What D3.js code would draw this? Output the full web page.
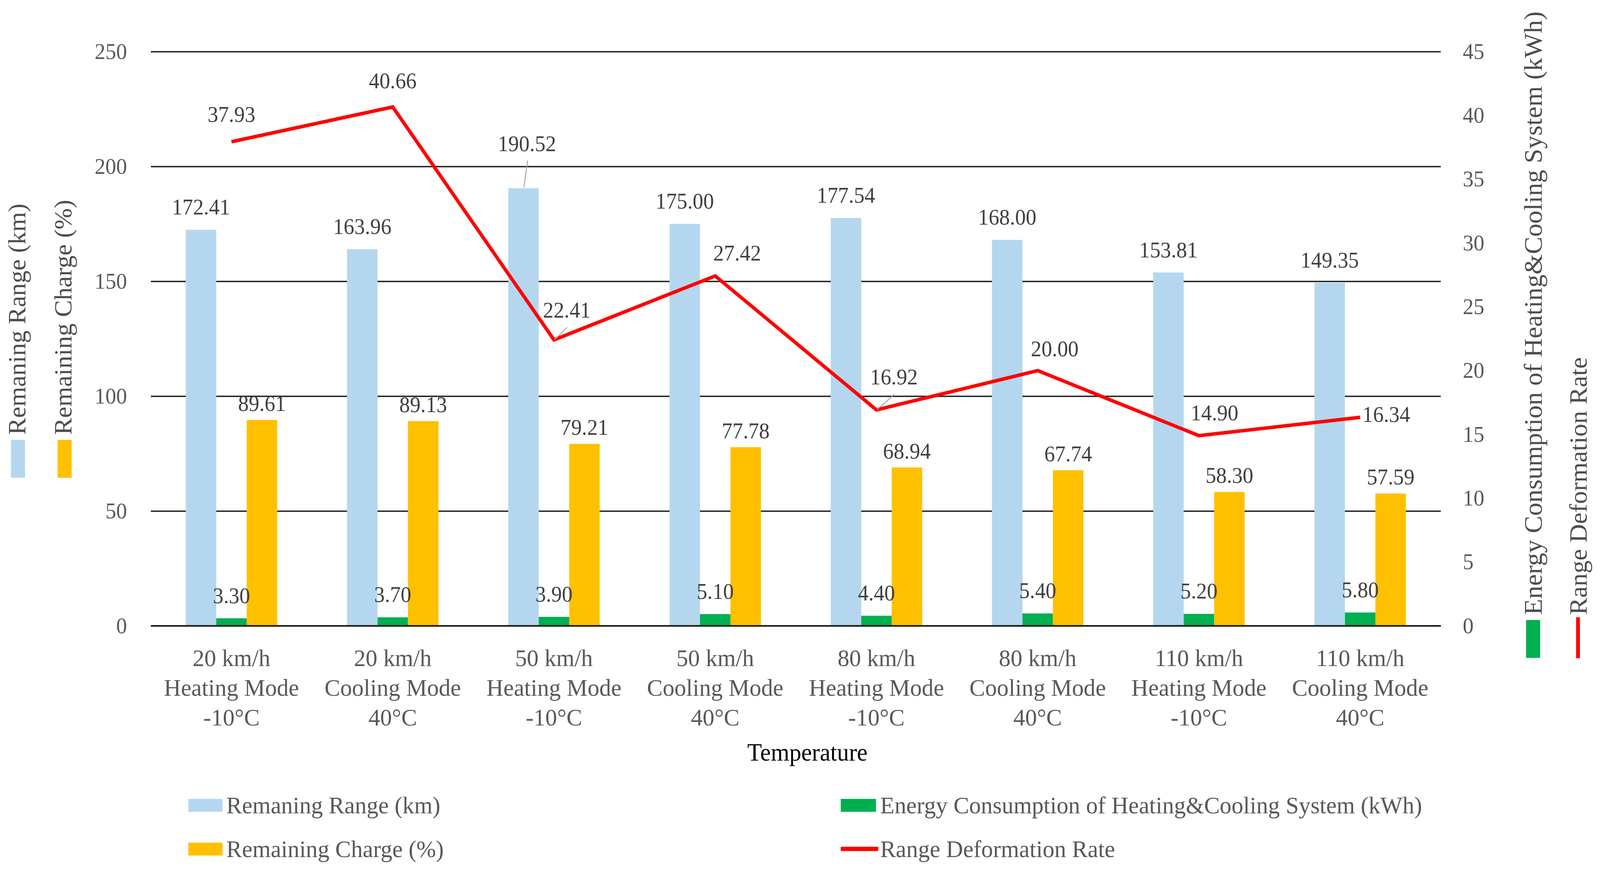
<!DOCTYPE html>
<html>
<head>
<meta charset="utf-8">
<script src="https://cdn.jsdelivr.net/npm/d3@7"></script>
<style>
  html, body { margin: 0; padding: 0; background: #fff; overflow: hidden; }
  #chart svg { display: block; width: 100vw; height: 100vh; }
  text { font-family: "Liberation Serif", "Times New Roman", serif; }
</style>
</head>
<body>
<div id="chart"></div>
<script>
// chart values
var categories = [
  ["20 km/h", "Heating Mode", "-10°C"],
  ["20 km/h", "Cooling Mode", "40°C"],
  ["50 km/h", "Heating Mode", "-10°C"],
  ["50 km/h", "Cooling Mode", "40°C"],
  ["80 km/h", "Heating Mode", "-10°C"],
  ["80 km/h", "Cooling Mode", "40°C"],
  ["110 km/h", "Heating Mode", "-10°C"],
  ["110 km/h", "Cooling Mode", "40°C"]
];
var remainingRange = [172.41, 163.96, 190.52, 175.00, 177.54, 168.00, 153.81, 149.35];
var energyUse = [3.30, 3.70, 3.90, 5.10, 4.40, 5.40, 5.20, 5.80];
var remainingCharge = [89.61, 89.13, 79.21, 77.78, 68.94, 67.74, 58.30, 57.59];
var deformationRate = [37.93, 40.66, 22.41, 27.42, 16.92, 20.00, 14.90, 16.34];
var leftTicks = [0, 50, 100, 150, 200, 250];
var rightTicks = [0, 5, 10, 15, 20, 25, 30, 35, 40, 45];

var seriesNames = {
  range: "Remaning Range (km)",
  energy: "Energy Consumption of Heating&Cooling System (kWh)",
  charge: "Remaining Charge (%)",
  rate: "Range Deformation Rate"
};
var colors = { range: "#B4D7EF", energy: "#00B050", charge: "#FFC000", rate: "#FF0000" };

// hand-moved data labels (offsets from the mark, like the dragged labels in the original)
var lineNudge = [
  { dx: 0, dy: -70 }, { dx: 0, dy: -67 }, { dx: 34, dy: -76, leader: true },
  { dx: 58, dy: -58 }, { dx: 46, dy: -84, leader: true }, { dx: 45, dy: -56 },
  { dx: 41, dy: -58 }, { dx: 6, dy: -7, anchor: "start" }
];
var rangeNudge = { 2: { dx: 9, dy: -114, leader: true } };

var W = 4221, H = 2227;
var m = { left: 398, right: 3801, top: 132, bottom: 1602 };

var svg = d3.select("#chart").append("svg")
  .attr("viewBox", "0 0 " + W + " " + H)
  .attr("preserveAspectRatio", "none");
svg.append("rect").attr("width", W).attr("height", H).attr("fill", "#fff");

var yL = d3.scaleLinear().domain([0, 250]).range([m.bottom, m.top]);
var yR = d3.scaleLinear().domain([0, 45]).range([m.bottom, m.top]);
var x0 = d3.scaleBand().domain(d3.range(categories.length)).range([m.left, m.right]);
var bw = x0.bandwidth();
var groupW = bw * 0.567;
var x1 = d3.scaleBand().domain(["range", "energy", "charge"])
  .range([(bw - groupW) / 2, (bw + groupW) / 2]);

// left axis + gridlines
var axL = svg.append("g").attr("transform", "translate(" + m.left + ",0)")
  .call(d3.axisLeft(yL).tickValues(leftTicks).tickSize(-(m.right - m.left)).tickPadding(63));
axL.select(".domain").remove();
axL.selectAll(".tick line").attr("stroke", "#1e1e1e").attr("stroke-width", 3.5);
axL.selectAll(".tick text").attr("fill", "#595959").style("font-size", "57px")
  .style("font-family", "'Liberation Serif', serif");

// right axis
var axR = svg.append("g").attr("transform", "translate(" + m.right + ",0)")
  .call(d3.axisRight(yR).tickValues(rightTicks).tickSize(0).tickPadding(58));
axR.select(".domain").remove();
axR.selectAll(".tick text").attr("fill", "#595959").style("font-size", "57px")
  .style("font-family", "'Liberation Serif', serif");

// bars
var bars = [
  { key: "range", values: remainingRange },
  { key: "energy", values: energyUse },
  { key: "charge", values: remainingCharge }
];
bars.forEach(function (s) {
  svg.append("g").selectAll("rect").data(s.values).enter().append("rect")
    .attr("x", function (d, i) { return x0(i) + x1(s.key); })
    .attr("y", function (d) { return yL(d); })
    .attr("width", x1.bandwidth())
    .attr("height", function (d) { return yL(0) - yL(d); })
    .attr("fill", colors[s.key]);
});

// zero line on top of the bars
svg.append("line").attr("x1", m.left).attr("x2", m.right)
  .attr("y1", yL(0)).attr("y2", yL(0)).attr("stroke", "#1e1e1e").attr("stroke-width", 4);

// line series
var lineX = function (i) { return x0(i) + bw / 2; };
svg.append("path").datum(deformationRate)
  .attr("fill", "none").attr("stroke", colors.rate).attr("stroke-width", 9)
  .attr("stroke-linejoin", "miter")
  .attr("d", d3.line().x(function (d, i) { return lineX(i); }).y(function (d) { return yR(d); }));

// data labels
var lab = svg.append("g").attr("fill", "#404040").style("font-size", "56px");
function label(x, y, txt, anchor) {
  lab.append("text").attr("x", x).attr("y", y + 19)
    .attr("text-anchor", anchor || "middle").text(txt);
}
function leader(x1_, y1_, x2_, y2_) {
  svg.append("line").attr("x1", x1_).attr("y1", y1_).attr("x2", x2_).attr("y2", y2_)
    .attr("stroke", "#A6A6A6").attr("stroke-width", 2.5);
}
var fmt = d3.format(".2f");

remainingRange.forEach(function (d, i) {
  var cx = x0(i) + x1("range") + x1.bandwidth() / 2, top = yL(d);
  var n = rangeNudge[i] || { dx: 0, dy: -58 };
  label(cx + n.dx, top + n.dy, fmt(d));
  if (n.leader) leader(cx + n.dx + 2, top + n.dy + 43, cx + 1, top - 2);
});
energyUse.forEach(function (d, i) {
  var cx = x0(i) + x1("energy") + x1.bandwidth() / 2;
  label(cx, yL(d) - 58, fmt(d));
});
remainingCharge.forEach(function (d, i) {
  var cx = x0(i) + x1("charge") + x1.bandwidth() / 2;
  label(cx, yL(d) - 42, fmt(d));
});
deformationRate.forEach(function (d, i) {
  var px = lineX(i), py = yR(d), n = lineNudge[i];
  label(px + n.dx, py + n.dy, fmt(d), n.anchor);
  if (n.leader) leader(px + n.dx + 1, py + n.dy + 44, px + 2, py - 1);
});

// category labels
var cat = svg.append("g").attr("fill", "#595959").style("font-size", "62px")
  .attr("text-anchor", "middle");
categories.forEach(function (lines, i) {
  var t = cat.append("text").attr("x", x0(i) + bw / 2).attr("y", 1705);
  lines.forEach(function (s, k) {
    t.append("tspan").attr("x", x0(i) + bw / 2).attr("dy", k === 0 ? 0 : 76).text(s);
  });
});

svg.append("text").attr("x", 2130).attr("y", 1947).attr("text-anchor", "middle")
  .attr("fill", "#000").style("font-size", "63px").text("Temperature");

// bottom legend
var lg = svg.append("g").attr("fill", "#595959").style("font-size", "62px");
lg.append("rect").attr("x", 497).attr("y", 2045).attr("width", 90).attr("height", 33).attr("fill", colors.range);
lg.append("text").attr("x", 597).attr("y", 2082).text(seriesNames.range);
lg.append("rect").attr("x", 497).attr("y", 2157).attr("width", 90).attr("height", 33).attr("fill", colors.charge);
lg.append("text").attr("x", 597).attr("y", 2194).text(seriesNames.charge);
lg.append("rect").attr("x", 2218).attr("y", 2045).attr("width", 93).attr("height", 33).attr("fill", colors.energy);
lg.append("text").attr("x", 2322).attr("y", 2082).text(seriesNames.energy);
lg.append("line").attr("x1", 2218).attr("x2", 2317).attr("y1", 2173).attr("y2", 2173)
  .attr("stroke", colors.rate).attr("stroke-width", 11);
lg.append("text").attr("x", 2322).attr("y", 2194).text(seriesNames.rate);

// vertical legends standing in for axis titles
var vl = svg.append("g").attr("fill", "#4d4d4d");
function vLegend(x, base, y0, key, size, isLine) {
  if (isLine) {
    vl.append("line").attr("x1", x).attr("x2", x).attr("y1", y0 + 6).attr("y2", y0 + 111)
      .attr("stroke", colors[key]).attr("stroke-width", 10);
  } else {
    vl.append("rect").attr("x", x - 18).attr("y", y0 + 13).attr("width", 37).attr("height", 97)
      .attr("fill", colors[key]);
  }
  vl.append("text").attr("transform", "translate(" + base + "," + y0 + ") rotate(-90)")
    .style("font-size", size + "px").text(seriesNames[key]);
}
vLegend(47, 67, 1113, "range", 65);
vLegend(170, 189, 1113, "charge", 65);
vLegend(4044, 4067, 1574, "energy", 67);
vLegend(4163, 4186, 1574, "rate", 66, true);
</script>
</body>
</html>
